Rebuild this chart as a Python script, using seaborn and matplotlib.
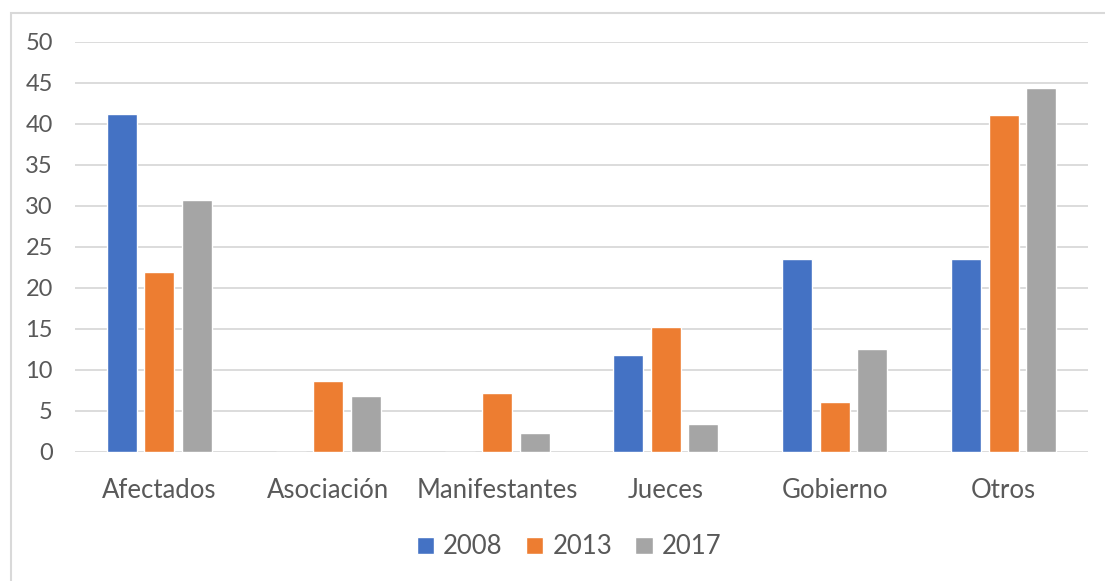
import numpy as np
import pandas as pd
import seaborn as sns
import matplotlib.pyplot as plt
from matplotlib.patches import Rectangle

categorias = ['Afectados', 'Asociación', 'Manifestantes', 'Jueces', 'Gobierno', 'Otros']
v2008 = [41.2, 0, 0, 11.8, 23.5, 23.5]
v2013 = [21.9, 8.6, 7.1, 15.2, 6.1, 41.1]
v2017 = [30.7, 6.8, 2.3, 3.4, 12.5, 44.3]
years = ['2008', '2013', '2017']
colores = ['#4472C4', '#ED7D31', '#A5A5A5']

df = pd.DataFrame({
    'categoria': categorias * 3,
    'valor': v2008 + v2013 + v2017,
    'year': [y for y in years for _ in categorias],
})

sns.set_style('white')
plt.rcParams['font.family'] = ['Lato', 'DejaVu Sans']

fig = plt.figure(figsize=(11.05, 5.81), dpi=100)
ax = fig.add_axes([75 / 1105, 1 - 451.7 / 581, (1088 - 75) / 1105, 410 / 581])

sns.barplot(data=df, x='categoria', y='valor', hue='year', order=categorias,
            hue_order=years, palette=colores, width=0.667, gap=0.2,
            saturation=1, ax=ax)

ax.set_ylim(0, 50)
ax.set_xlim(-0.5, 5.5)
ax.set_yticks(np.arange(0, 51, 5))
ax.yaxis.grid(True, color='#D9D9D9', linewidth=1.3)
ax.set_axisbelow(True)
for s in ax.spines.values():
    s.set_visible(False)
ax.set_xlabel('')
ax.set_ylabel('')
ax.tick_params(axis='y', length=0, pad=16, labelsize=17, labelcolor='#595959')
ax.tick_params(axis='x', length=0, pad=19, labelsize=18.5, labelcolor='#595959')

handles, labels = ax.get_legend_handles_labels()
ax.get_legend().remove()
fig.legend(handles, labels, loc='center', bbox_to_anchor=(569 / 1105, 1 - 547 / 581),
           ncol=3, frameon=False, fontsize=18.5, handlelength=0.68, handleheight=0.68,
           handletextpad=0.35, columnspacing=0.9, labelcolor='#595959')

# chart frame
fig.patches.append(Rectangle((11 / 1105, -0.05), 1.1, 1 - 12.7 / 581 + 0.05,
                             transform=fig.transFigure, fill=False,
                             edgecolor='#D9D9D9', linewidth=1.5))

fig.savefig('out.png', dpi=100)
